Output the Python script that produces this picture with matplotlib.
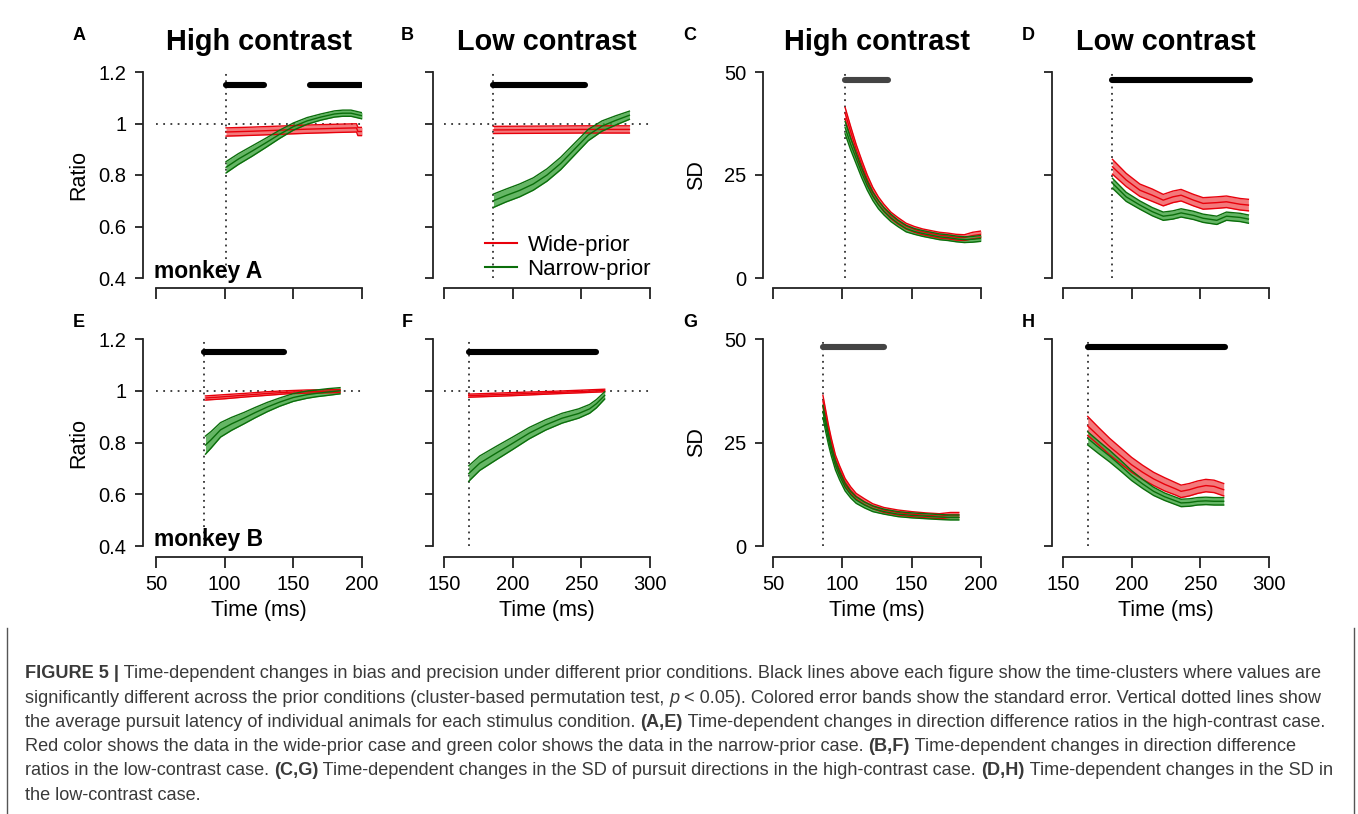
#!/usr/bin/env python3
import matplotlib

matplotlib.use("Agg")
import matplotlib.pyplot as plt
import numpy as np
from matplotlib.lines import Line2D

plt.rcParams["font.family"] = ["Liberation Sans", "DejaVu Sans"]

W, H = 1358, 814

# ---- values ----
# A: direction difference ratio, high contrast, monkey A
a_latency = 101
a_sig = [(101, 129), (162, 199)]
a_wide_t = [101, 120, 140, 160, 180, 196, 197, 200]
a_wide_m = [0.967, 0.970, 0.974, 0.978, 0.981, 0.983, 0.969, 0.969]
a_wide_se = [0.016, 0.016, 0.016, 0.016, 0.016, 0.016, 0.016, 0.016]
a_narrow_t = [101, 110, 120, 130, 140, 150, 160, 170, 180, 186, 192, 200]
a_narrow_m = [0.830, 0.862, 0.893, 0.925, 0.958, 0.988, 1.010, 1.025, 1.037, 1.040, 1.040, 1.030]
a_narrow_se = [0.022, 0.021, 0.020, 0.018, 0.016, 0.014, 0.013, 0.012, 0.012, 0.012, 0.012, 0.012]

# B: ratio, low contrast, monkey A
b_latency = 186
b_sig = [(186, 253)]
b_wide_t = [186, 220, 250, 285]
b_wide_m = [0.975, 0.976, 0.977, 0.977]
b_wide_se = [0.014, 0.014, 0.014, 0.014]
b_narrow_t = [186, 195, 205, 215, 225, 235, 245, 255, 265, 275, 285]
b_narrow_m = [0.700, 0.720, 0.740, 0.765, 0.800, 0.845, 0.900, 0.955, 0.990, 1.012, 1.032]
b_narrow_se = [0.026, 0.025, 0.025, 0.024, 0.024, 0.024, 0.023, 0.022, 0.020, 0.018, 0.016]

# C: SD, high contrast, monkey A
c_latency = 102
c_sig = [(102, 133)]
c_t = [102, 106, 110, 114, 118, 122, 126, 130, 135, 140, 146, 152, 158, 164, 170, 176, 182, 188, 194, 200]
c_wide_m = [40.0, 35.5, 31.2, 27.5, 24.0, 21.0, 18.8, 17.0, 15.2, 13.9, 12.6, 11.8, 11.2, 10.8, 10.4, 10.2, 9.9, 9.8, 10.3, 10.6]
c_wide_se = [1.4, 1.3, 1.2, 1.1, 1.0, 1.0, 0.9, 0.9, 0.8, 0.8, 0.7, 0.7, 0.7, 0.7, 0.7, 0.7, 0.7, 0.7, 0.8, 0.8]
c_narrow_m = [36.5, 32.5, 29.0, 25.5, 22.4, 19.8, 17.8, 16.2, 14.6, 13.3, 12.0, 11.3, 10.8, 10.4, 10.0, 9.8, 9.5, 9.3, 9.4, 9.6]
c_narrow_se = [1.5, 1.4, 1.3, 1.2, 1.1, 1.0, 1.0, 0.9, 0.9, 0.8, 0.8, 0.7, 0.7, 0.7, 0.7, 0.7, 0.7, 0.7, 0.7, 0.7]

# D: SD, low contrast, monkey A
d_latency = 186
d_sig = [(186, 286)]
d_t = [186, 196, 206, 215, 223, 230, 236, 245, 252, 262, 269, 279, 285]
d_wide_m = [27.0, 23.8, 21.3, 20.1, 18.9, 19.7, 20.1, 18.9, 18.1, 18.3, 18.5, 17.9, 17.7]
d_wide_se = [1.8, 1.6, 1.5, 1.5, 1.4, 1.4, 1.4, 1.4, 1.4, 1.4, 1.4, 1.4, 1.4]
d_narrow_m = [23.0, 19.7, 17.7, 16.1, 15.0, 15.3, 15.8, 15.2, 14.5, 14.0, 15.0, 14.7, 14.3]
d_narrow_se = [1.2, 1.1, 1.0, 1.0, 1.0, 1.0, 1.0, 1.0, 1.0, 1.0, 1.0, 1.0, 1.0]

# E: ratio, high contrast, monkey B
e_latency = 85
e_sig = [(85, 143)]
e_wide_t = [86, 100, 115, 130, 145, 160, 175, 184]
e_wide_m = [0.972, 0.977, 0.983, 0.989, 0.994, 0.997, 0.998, 0.999]
e_wide_se = [0.008, 0.008, 0.007, 0.007, 0.006, 0.006, 0.006, 0.006]
e_narrow_t = [86, 90, 97, 105, 114, 122, 131, 140, 150, 160, 167, 175, 184]
e_narrow_m = [0.790, 0.810, 0.849, 0.872, 0.894, 0.915, 0.937, 0.956, 0.974, 0.985, 0.990, 0.995, 1.000]
e_narrow_se = [0.035, 0.032, 0.028, 0.025, 0.022, 0.020, 0.018, 0.016, 0.015, 0.014, 0.013, 0.013, 0.012]

# F: ratio, low contrast, monkey B
f_latency = 168
f_sig = [(168, 261)]
f_wide_t = [168, 200, 230, 267]
f_wide_m = [0.981, 0.987, 0.993, 1.001]
f_wide_se = [0.006, 0.006, 0.005, 0.005]
f_narrow_t = [168, 176, 188, 200, 212, 224, 236, 248, 256, 261, 267]
f_narrow_m = [0.680, 0.720, 0.759, 0.797, 0.836, 0.868, 0.894, 0.912, 0.930, 0.950, 0.982]
f_narrow_se = [0.030, 0.028, 0.026, 0.024, 0.022, 0.020, 0.019, 0.018, 0.017, 0.016, 0.014]

# G: SD, high contrast, monkey B
g_latency = 86
g_sig = [(86, 130)]
g_t = [86, 88, 90, 92, 95, 98, 102, 106, 110, 116, 122, 130, 140, 150, 160, 170, 178, 184]
g_wide_m = [35.0, 31.5, 28.0, 25.0, 21.0, 18.5, 15.5, 13.5, 12.0, 10.7, 9.6, 8.7, 8.1, 7.7, 7.4, 7.2, 7.5, 7.5]
g_wide_se = [1.4, 1.3, 1.2, 1.1, 1.0, 0.9, 0.8, 0.8, 0.7, 0.7, 0.6, 0.6, 0.6, 0.6, 0.6, 0.6, 0.6, 0.6]
g_narrow_m = [32.5, 29.0, 25.8, 23.0, 19.5, 17.0, 14.2, 12.4, 11.1, 9.9, 9.0, 8.3, 7.7, 7.4, 7.2, 7.0, 6.9, 6.9]
g_narrow_se = [1.5, 1.4, 1.3, 1.2, 1.1, 1.0, 0.9, 0.8, 0.8, 0.7, 0.7, 0.6, 0.6, 0.6, 0.6, 0.6, 0.6, 0.6]

# H: SD, low contrast, monkey B
h_latency = 168
h_sig = [(168, 268)]
h_t = [168, 176, 184, 192, 200, 208, 216, 224, 232, 236, 242, 248, 254, 260, 267]
h_wide_m = [29.0, 26.5, 24.0, 21.8, 19.6, 17.8, 16.2, 14.9, 13.8, 13.2, 13.6, 14.2, 14.6, 14.4, 13.6]
h_wide_se = [2.3, 2.1, 2.0, 1.9, 1.8, 1.7, 1.6, 1.6, 1.5, 1.5, 1.5, 1.5, 1.5, 1.5, 1.5]
h_narrow_m = [26.0, 23.8, 21.7, 19.4, 17.0, 15.0, 13.2, 11.9, 10.9, 10.4, 10.5, 10.8, 10.9, 10.8, 10.8]
h_narrow_se = [1.6, 1.5, 1.4, 1.3, 1.2, 1.1, 1.0, 0.9, 0.9, 0.9, 0.9, 0.9, 0.9, 0.9, 0.9]

ratio_ticks = [0.4, 0.6, 0.8, 1.0, 1.2]
ratio_labels = ["0.4", "0.6", "0.8", "1", "1.2"]
sd_ticks = [0, 25, 50]
sd_labels = ["0", "25", "50"]
early_ticks = [50, 100, 150, 200]
late_ticks = [150, 200, 250, 300]

titles = ["High contrast", "Low contrast", "High contrast", "Low contrast"]
monkeys = ["monkey A", "monkey B"]

caption_lines = [
    [("FIGURE 5 |", "b"), (" Time-dependent changes in bias and precision under different prior conditions. Black lines above each figure show the time-clusters where values are", "n")],
    [("significantly different across the prior conditions (cluster-based permutation test, ", "n"), ("p", "i"), (" < 0.05). Colored error bands show the standard error. Vertical dotted lines show", "n")],
    [("the average pursuit latency of individual animals for each stimulus condition. ", "n"), ("(A,E)", "b"), (" Time-dependent changes in direction difference ratios in the high-contrast case.", "n")],
    [("Red color shows the data in the wide-prior case and green color shows the data in the narrow-prior case. ", "n"), ("(B,F)", "b"), (" Time-dependent changes in direction difference", "n")],
    [("ratios in the low-contrast case. ", "n"), ("(C,G)", "b"), (" Time-dependent changes in the SD of pursuit directions in the high-contrast case. ", "n"), ("(D,H)", "b"), (" Time-dependent changes in the SD in", "n")],
    [("the low-contrast case.", "n")],
]

# ---- styling ----
WIDE_FILL, WIDE_EDGE = "#f0585a", "#e8000b"
NARROW_FILL, NARROW_EDGE = "#3fa43f", "#0b6e0b"
AXIS_COLOR = "#222222"
PX = 0.72  # points per pixel at dpi 100
TICK_SIZE = 14.5
LABEL_SIZE = 15.5

cols = [(156, 362, 13), (444, 650, 11), (773, 981, 10), (1063, 1269, 11)]
rows = [(72, 278, 10), (339, 546, 11)]


def band(ax, t, m, se, fill, edge):
    t, m, se = np.asarray(t), np.asarray(m), np.asarray(se)
    ax.fill_between(t, m - se, m + se, color=fill, alpha=0.8, lw=0, zorder=3)
    for y in (m - se, m + se):
        ax.plot(t, y, color=edge, lw=1.0, zorder=4)
    ax.plot(t, m, color=edge, lw=1.0, zorder=4)


def style_axes(ax, row, xticks, yticks, ylabels, show_y, left_off, bottom_off):
    for side in ("top", "right"):
        ax.spines[side].set_visible(False)
    ax.spines["left"].set_position(("outward", left_off * PX))
    ax.spines["bottom"].set_position(("outward", bottom_off * PX))
    for side in ("left", "bottom"):
        ax.spines[side].set_color(AXIS_COLOR)
        ax.spines[side].set_linewidth(1.3)
    ax.spines["left"].set_bounds(yticks[0], yticks[-1])
    ax.spines["bottom"].set_bounds(xticks[0], xticks[-1])
    ax.set_xticks(xticks)
    ax.set_yticks(yticks)
    ax.set_yticklabels(ylabels if show_y else [])
    if row == 0:
        ax.set_xticklabels([])
    else:
        ax.set_xticklabels([str(v) for v in xticks])
        ax.set_xlabel("Time (ms)", fontsize=LABEL_SIZE)
        ax.xaxis.set_label_coords(0.5, -0.262)
    ax.tick_params(axis="x", length=8, width=1.3, color=AXIS_COLOR, labelsize=TICK_SIZE, pad=5)
    ax.tick_params(axis="y", length=6, width=1.3, color=AXIS_COLOR, labelsize=TICK_SIZE, pad=6)
    ax.patch.set_visible(False)


fig = plt.figure(figsize=(W / 100, H / 100), dpi=100)

panels = [
    ("A", 0, 0, "ratio", a_latency, a_sig, "#000000", a_wide_t, a_wide_m, a_wide_se, a_narrow_t, a_narrow_m, a_narrow_se),
    ("B", 0, 1, "ratio", b_latency, b_sig, "#000000", b_wide_t, b_wide_m, b_wide_se, b_narrow_t, b_narrow_m, b_narrow_se),
    ("C", 0, 2, "sd", c_latency, c_sig, "#444444", c_t, c_wide_m, c_wide_se, c_t, c_narrow_m, c_narrow_se),
    ("D", 0, 3, "sd", d_latency, d_sig, "#000000", d_t, d_wide_m, d_wide_se, d_t, d_narrow_m, d_narrow_se),
    ("E", 1, 0, "ratio", e_latency, e_sig, "#000000", e_wide_t, e_wide_m, e_wide_se, e_narrow_t, e_narrow_m, e_narrow_se),
    ("F", 1, 1, "ratio", f_latency, f_sig, "#000000", f_wide_t, f_wide_m, f_wide_se, f_narrow_t, f_narrow_m, f_narrow_se),
    ("G", 1, 2, "sd", g_latency, g_sig, "#444444", g_t, g_wide_m, g_wide_se, g_t, g_narrow_m, g_narrow_se),
    ("H", 1, 3, "sd", h_latency, h_sig, "#000000", h_t, h_wide_m, h_wide_se, h_t, h_narrow_m, h_narrow_se),
]

for letter, row, col, kind, lat, sig, sig_color, wt, wm, wse, nt, nm, nse in panels:
    left, right, left_off = cols[col]
    top, bottom, bottom_off = rows[row]
    ax = fig.add_axes([left / W, 1 - bottom / H, (right - left) / W, (bottom - top) / H])
    xticks = early_ticks if col in (0, 2) else late_ticks
    if kind == "ratio":
        yticks, ylabels, sig_y, ylab = ratio_ticks, ratio_labels, 1.15, "Ratio"
    else:
        yticks, ylabels, sig_y, ylab = sd_ticks, sd_labels, 48, "SD"
    ax.set_xlim(xticks[0], xticks[-1])
    ax.set_ylim(yticks[0], yticks[-1])
    style_axes(ax, row, xticks, yticks, ylabels, col in (0, 2), left_off, bottom_off)
    if col in (0, 2):
        ax.set_ylabel(ylab, fontsize=LABEL_SIZE)
        ax.yaxis.set_label_coords(-0.325 if kind == "ratio" else -0.315, 0.5)

    ax.vlines(lat, yticks[0], yticks[-1], colors="#333333", linestyles=(0, (1, 2.5)), lw=1.3, zorder=2)
    if kind == "ratio":
        ax.hlines(1.0, xticks[0], xticks[-1], colors="#333333", linestyles=(0, (1, 3)), lw=1.3, zorder=2)
    for s, e in sig:
        ax.plot([s, e], [sig_y, sig_y], color=sig_color, lw=4.4, solid_capstyle="round", zorder=5)

    band(ax, wt, wm, wse, WIDE_FILL, WIDE_EDGE)
    band(ax, nt, nm, nse, NARROW_FILL, NARROW_EDGE)

    if letter == "B":
        handles = [Line2D([], [], color=WIDE_EDGE, lw=1.5), Line2D([], [], color=NARROW_EDGE, lw=1.5)]
        ax.legend(handles, ["Wide-prior", "Narrow-prior"], loc="lower left",
                  bbox_to_anchor=(0.2, -0.01), frameon=False, fontsize=16,
                  handlelength=1.45, handletextpad=0.45, labelspacing=0.15,
                  borderaxespad=0, borderpad=0)
    if col == 0:
        ax.text(-0.01, 0.03, monkeys[row], transform=ax.transAxes, fontsize=16.5,
                fontweight="bold", ha="left", va="center", zorder=6)

    # panel letter
    lx = [79, 407, 690, 1028][col]
    ly = [36, 323][row]
    fig.text(lx / W, 1 - ly / H, letter, fontsize=13, fontweight="bold", ha="center", va="center")

for col, title in enumerate(titles):
    left, right, _ = cols[col]
    fig.text((left + right) / 2 / W, 1 - 42 / H, title, fontsize=20.8, fontweight="bold",
             ha="center", va="center")

# ---- caption ----
fig.add_artist(Line2D([7 / W, 7 / W], [0, 1 - 628 / H], color="#555555", lw=1.0))
fig.add_artist(Line2D([1354 / W, 1354 / W], [0, 1 - 628 / H], color="#555555", lw=1.0))

renderer = fig.canvas.get_renderer()
kinds = {"n": dict(fontweight="normal", fontstyle="normal"),
         "b": dict(fontweight="bold", fontstyle="normal"),
         "i": dict(fontweight="normal", fontstyle="italic")}


def advance(text, size, kind):
    probe = fig.text(0, 0, "|" + text + "|", fontsize=size, **kinds[kind])
    w1 = probe.get_window_extent(renderer).width
    probe.set_text("||")
    w0 = probe.get_window_extent(renderer).width
    probe.remove()
    return w1 - w0


base = 12.0
natural = sum(advance(t, base, k) for t, k in caption_lines[0])
size = base * (1322 - 25) / natural

for i, line in enumerate(caption_lines):
    x = 25.0
    y = 674 + 24.2 * i
    for text, kind in line:
        fig.text(x / W, 1 - y / H, text, fontsize=size, color="#3a3a3a",
                 ha="left", va="center", **kinds[kind])
        x += advance(text, size, kind)

fig.savefig("out.png", dpi=100)
